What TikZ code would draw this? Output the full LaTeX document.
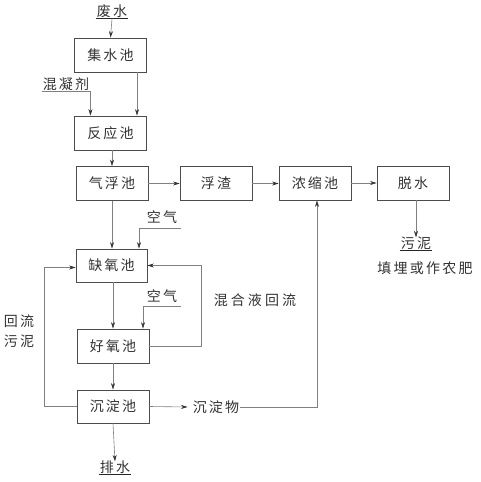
\documentclass[tikz,border=0pt]{standalone}
\usepackage{fontspec}
\newfontfamily\cjk{Noto Sans CJK SC}[LetterSpace=16]
\usetikzlibrary{arrows.meta}
\begin{document}
\begin{tikzpicture}[x=1pt,y=-1pt,
  font=\cjk\fontsize{14}{14}\selectfont,
  box/.style={draw=black!70, line width=0.8pt, minimum width=72pt, minimum height=34pt, inner sep=0pt, text=black!80},
  ln/.style={draw=black!50, line width=0.6pt},
  arr/.style={ln, -{Stealth[length=6.5pt,width=4pt,color=black!80]}},
  lab/.style={inner sep=1pt, text=black!80},
  uline/.style={draw=black!85, line width=1.4pt}]
\useasboundingbox[fill=white] (0,0) rectangle (480,482);
% boxes
\node[box] (jishui) at (110.5,55) {集水池};
\node[box] (fanying) at (110.5,133) {反应池};
\node[box] (qifu) at (112,183.5) {气浮池};
\node[box] (fuzha) at (216,183.5) {浮渣};
\node[box] (nongsuo) at (315,183) {浓缩池};
\node[box] (tuoshui) at (413,183) {脱水};
\node[box, minimum width=71pt, minimum height=33pt] (queyang) at (111.5,265.5) {缺氧池};
\node[box] (haoyang) at (113,346) {好氧池};
\node[box, minimum height=33pt] (chendian) at (113,406.5) {沉淀池};
% labels
\node[lab] (feishui) at (112,11) {废水};
\node[lab] (hunning) at (66,84) {混凝剂};
\node[lab] (air1) at (162,217) {空气};
\node[lab] (air2) at (162,296) {空气};
\node[lab, font=\cjk\fontsize{14}{14}\selectfont\addfontfeature{LetterSpace=22}] (hunhe) at (255,300) {混合液回流};
\node[lab] (huiliu) at (19,321) {回流};
\node[lab] (wunil) at (19,341) {污泥};
\node[lab] (chendw) at (216,407) {沉淀物};
\node[lab] (paishui) at (115,467) {排水};
\node[lab] (wuni) at (416,243) {污泥};
\node[lab] (tianmai) at (425,268) {填埋或作农肥};
% underlines
\draw[uline] (feishui.south west) -- (feishui.south east);
\draw[uline] (paishui.south west) -- (paishui.south east);
\draw[uline] (wuni.south west) -- (wuni.south east);
% coordinates
\coordinate (a1) at (181,228);
\coordinate (a2) at (181,306);
\coordinate (L) at (44,0);
\coordinate (R) at (201,0);
\coordinate (N) at (317,0);
% connectors
\draw[arr] (feishui.south) -- (jishui.north);
\draw[arr] (hunning.south west) -- (hunning.south east) -- (hunning.south east |- fanying.north);
\draw[arr] ([xshift=26.5]jishui.south) -- ([xshift=26.5]jishui.south |- fanying.north);
\draw[arr] (qifu.north |- fanying.south) -- (qifu.north);
\draw[arr] (qifu.east) -- (fuzha.west);
\draw[arr] (fuzha.east) -- (fuzha.east -| nongsuo.west);
\draw[arr] (nongsuo.east) -- (tuoshui.west);
\draw[arr] (tuoshui.south -| wuni.north) -- ([yshift=-2]wuni.north);
\draw[arr] (qifu.south) -- (qifu.south |- queyang.north);
\draw[arr] (a1) -| ([xshift=27.5]queyang.north);
\draw[arr] (chendian.west) -- (chendian.west -| L) |- ([yshift=-2]queyang.west);
\draw[arr] (haoyang.east) -- (haoyang.east -| R) |- (queyang.east);
\draw[arr] (a2) -| ([xshift=30]haoyang.north);
\draw[arr] (haoyang.north |- queyang.south) -- (haoyang.north);
\draw[arr] (haoyang.south) -- (chendian.north);
\draw[arr] (chendian.east) -- ([xshift=-4]chendw.west);
\draw[arr] (chendw.east) -- (chendw.east -| N) -- (N |- nongsuo.south);
\draw[arr] (chendian.south) -- ([yshift=-2]paishui.north);
\end{tikzpicture}
\end{document}
